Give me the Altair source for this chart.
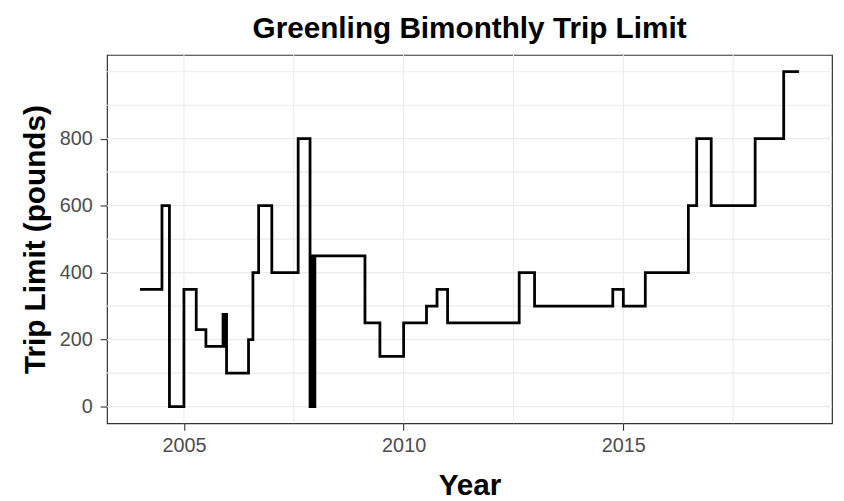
import altair as alt
import pandas as pd

# Step data: year at which a limit starts, and the limit (pounds)
years = [2004.0, 2004.5, 2004.67, 2005.0, 2005.28, 2005.5,
         2005.89, 2005.92, 2005.94, 2005.97,
         2006.47, 2006.57, 2006.7, 2007.0, 2007.6,
         2007.87, 2007.9, 2007.92, 2007.95, 2007.96, 2007.98,
         2009.12, 2009.46, 2010.0, 2010.52, 2010.76, 2011.0,
         2012.63, 2012.98, 2014.76, 2015.0, 2015.5, 2016.48,
         2016.67, 2017.0, 2018.0, 2018.65, 2019.0]
limits = [350, 600, 0, 350, 230, 180,
          275, 180, 275, 100,
          200, 400, 600, 400, 800,
          0, 450, 0, 450, 0, 450,
          250, 150, 250, 300, 350, 250,
          400, 300, 350, 300, 400, 600,
          800, 600, 800, 1000, 1000]

x_ticks = [2005, 2010, 2015]
y_ticks = [0, 200, 400, 600, 800]
grid_x = [2005, 2007.5, 2010, 2012.5, 2015, 2017.5]
grid_y = [0, 100, 200, 300, 400, 500, 600, 700, 800, 900, 1000]

x_scale = alt.Scale(domain=[2003.25, 2019.75], nice=False, zero=False)
y_scale = alt.Scale(domain=[-50, 1050], nice=False, zero=False)
x_axis = alt.Axis(values=x_ticks, format="d", titlePadding=16, labelPadding=5)
y_axis = alt.Axis(values=y_ticks, titlePadding=9, labelPadding=8)

df = pd.DataFrame({"Year": years, "Limit": limits})

gx = alt.Chart(pd.DataFrame({"g": grid_x})).mark_rule(
    color="#EBEBEB", strokeWidth=1.1
).encode(x=alt.X("g:Q", scale=x_scale, axis=x_axis, title="Year"))

gy = alt.Chart(pd.DataFrame({"g": grid_y})).mark_rule(
    color="#EBEBEB", strokeWidth=1.1
).encode(y=alt.Y("g:Q", scale=y_scale, axis=y_axis, title="Trip Limit (pounds)"))

line = alt.Chart(df).mark_line(
    interpolate="step-after", color="black", strokeWidth=2.8
).encode(
    x=alt.X("Year:Q", scale=x_scale, title="Year", axis=x_axis),
    y=alt.Y("Limit:Q", scale=y_scale, title="Trip Limit (pounds)", axis=y_axis),
)

chart = alt.layer(gx, gy, line).properties(
    width=732, height=372,
    autosize=alt.AutoSizeParams(type="none"),
    padding={"left": 100, "top": 45, "right": 4, "bottom": 76},
    title=alt.TitleParams("Greenling Bimonthly Trip Limit", fontSize=30,
                          fontWeight="bold", anchor="middle", offset=11,
                          color="black", font="Liberation Sans"),
).configure_view(
    stroke="#333333", strokeWidth=1.2
).configure_axis(
    domain=False, grid=False, tickColor="#333333", tickSize=7, tickWidth=1.1,
    labelColor="#4D4D4D", labelFontSize=20, labelFont="Liberation Sans",
    titleFont="Liberation Sans", titleFontSize=30,
    titleFontWeight="bold", titleColor="black",
)

chart.save("out.html", embed_options={"renderer": "svg", "actions": False})
